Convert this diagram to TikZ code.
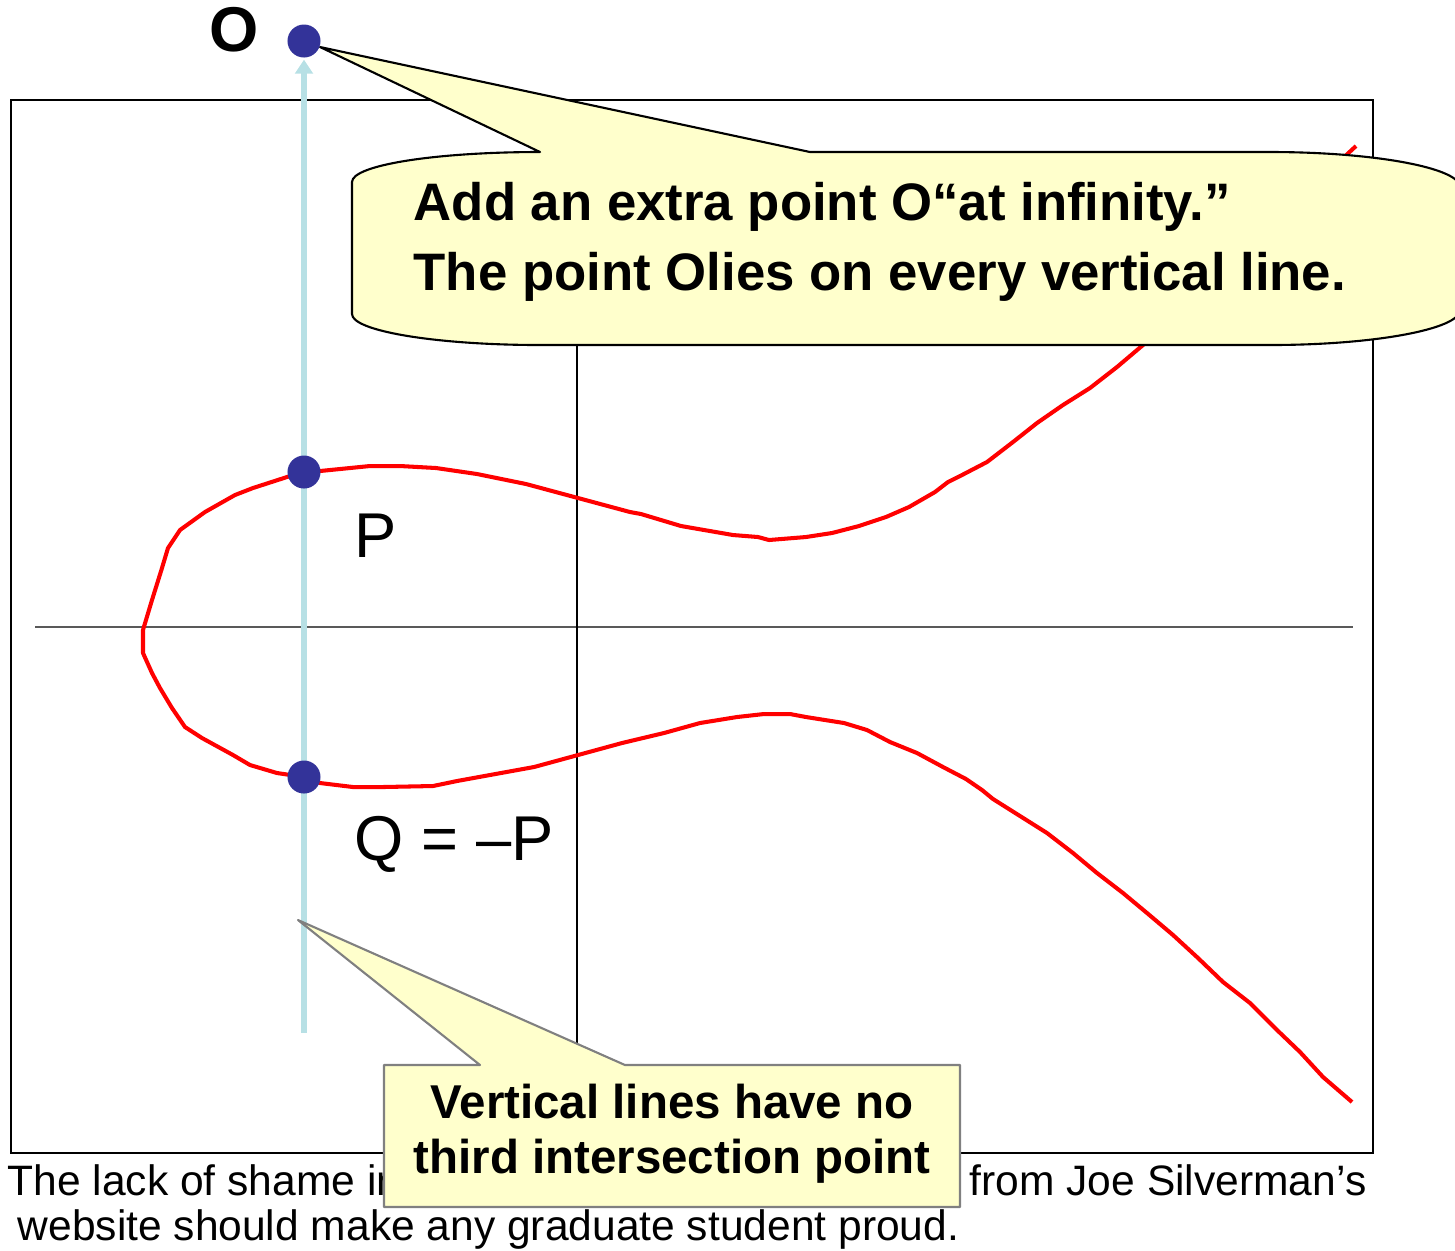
\documentclass[tikz,border=0pt]{standalone}
\usepackage{fontspec}
\setmainfont{Liberation Sans}
\usetikzlibrary{arrows.meta}
\definecolor{curvered}{RGB}{255,0,0}
\definecolor{linecyan}{RGB}{183,224,229}
\definecolor{dotblue}{RGB}{51,51,153}
\definecolor{notefill}{RGB}{255,255,204}

\begin{document}
\begin{tikzpicture}[x=0.01cm, y=-0.01cm,
  dot/.style={circle, fill=dotblue, inner sep=0pt, minimum size=0.33cm},
  note/.style={fill=notefill, line width=0.6pt, line join=round},
  lbl/.style={anchor=base west, inner sep=0pt, font=\fontsize{18}{20}\selectfont}]
  \clip (0,0) rectangle (1455,1250);

  % Frame and axes
  \draw[line width=0.6pt] (11,100) rectangle (1373,1153);
  \draw[black!65, line width=0.4pt] (35,627) -- (1353,627);
  \draw[line width=0.4pt] (577,120) -- (577,1133);

  % Curve
  \draw[curvered, line width=1.15pt, line join=round] plot coordinates {
    (1356,146) (1300,198) (1250,243) (1200,292) (1143,345) (1117,367) (1090,388)
    (1063,405) (1037,423) (1013,442) (987,462) (962,475) (948,482) (935,492)
    (909,507) (886,517) (859,526) (832,533) (806,537) (769,540) (758,537)
    (733,535) (681,526) (641,514) (630,512) (578,498) (526,484) (477,474)
    (436,468) (400,466) (370,466) (320,471) (304,472) (287,477) (253,488)
    (235,495) (205,512) (180,530) (168,548) (162,568) (152,600) (143,630)
    (143,653) (152,673) (160,688) (172,708) (185,727) (202,738) (233,755)
    (250,765) (277,773) (304,777) (320,783) (353,787) (383,787) (433,786)
    (457,781) (534,767) (578,755) (622,743) (664,733) (700,723) (737,717)
    (764,714) (790,714) (806,717) (844,723) (867,730) (890,742) (917,753)
    (943,767) (966,779) (982,790) (993,799) (1020,816) (1047,833) (1073,853)
    (1097,873) (1123,893) (1147,913) (1173,935) (1198,958) (1223,982)
    (1250,1003) (1277,1030) (1300,1052) (1323,1077) (1352,1102)};

  % Points on the vertical line
  \coordinate (O) at (304,41);
  \coordinate (P) at (304,472);
  \coordinate (Q) at (304,777);
  \coordinate (vbot) at (304,1033);
  \draw[linecyan, line width=1.6pt, -{Triangle[length=4pt,width=5pt]}, shorten >=5.3pt] (vbot) -- (O);

  % Callout: point at infinity
  \draw[note, draw=black] (320,47) -- (810,152) -- (1270,152)
    .. controls (1375,152) and (1460,168) .. (1460,187)
    -- (1460,310)
    .. controls (1460,329) and (1375,345) .. (1270,345)
    -- (540,345)
    .. controls (436,345) and (352,331) .. (352,314)
    -- (352,182)
    .. controls (352,165) and (436,152) .. (540,152) -- cycle;
  \node[anchor=base west, align=left, inner sep=0pt, font=\bfseries\fontsize{15}{19.9}\selectfont] (topnote) at (413,290)
    {Add an extra point O“at infinity.”\\The point Olies on every vertical line.};

  % Caption
  \node[anchor=base west, inner sep=0pt, font=\fontsize{12.1}{13}\selectfont] (capa) at (7,1195) {The lack of shame in};
  \node[anchor=base east, inner sep=0pt, font=\fontsize{12.1}{13}\selectfont] (capb) at (1367,1195) {from Joe Silverman’s};
  \node[anchor=base west, inner sep=0pt, font=\fontsize{12.1}{13}\selectfont] (capc) at (17,1240) {website should make any graduate student proud.};

  % Callout: no third point
  \draw[note, draw=black!50] (298,920) -- (625,1065) -- (960,1065) -- (960,1207)
    -- (384,1207) -- (384,1065) -- (480,1065) -- cycle;
  \node[anchor=base, align=center, inner sep=0pt, font=\bfseries\fontsize{13.5}{15.6}\selectfont] (botnote) at (672,1173)
    {Vertical lines have no\\third intersection point};

  % Dots and labels
  \node[dot] (Odot) at (O) {};
  \node[dot] (Pdot) at (P) {};
  \node[dot] (Qdot) at (Q) {};
  \node[lbl, font=\bfseries\fontsize{18}{20}\selectfont] (Olabel) at (209,51) {O};
  \node[lbl] (Plabel) at (354,557) {P};
  \node[lbl] (Qlabel) at (354,860) {Q = –P};
\end{tikzpicture}
\end{document}
